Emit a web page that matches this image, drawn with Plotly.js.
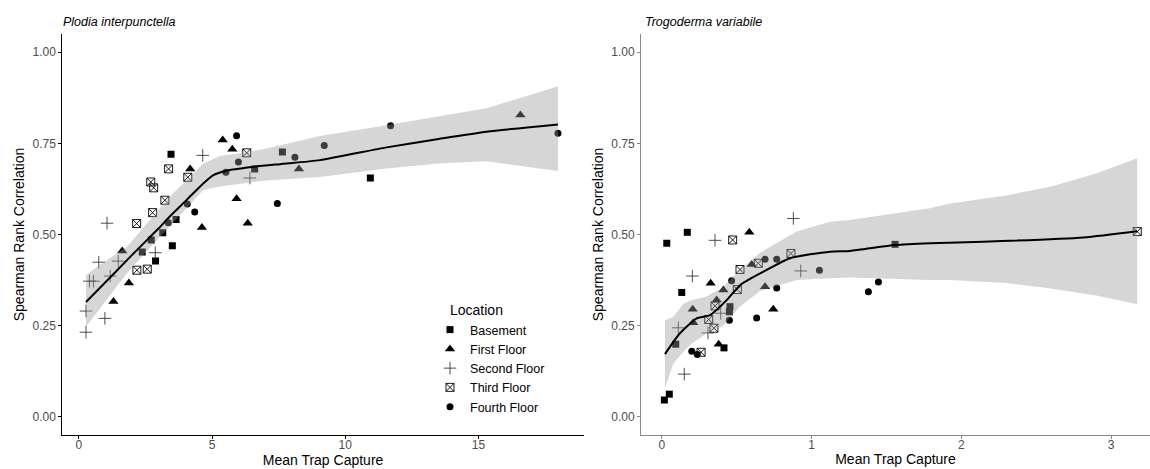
<!DOCTYPE html>
<html>
<head>
<meta charset="utf-8">
<script src="https://cdn.plot.ly/plotly-3.0.1.min.js"></script>
<style>html,body{margin:0;padding:0;background:#fff;}#chart{width:1150px;height:469px;}</style>
</head>
<body>
<div id="chart"></div>
<script>
// ---------- Plodia interpunctella (left panel) ----------
const plodiaBasementX = [3.46, 6.60, 3.65, 3.15, 2.72, 3.51, 2.38, 2.88, 7.64, 10.94];
const plodiaBasementY = [0.720, 0.680, 0.541, 0.505, 0.485, 0.469, 0.452, 0.427, 0.726, 0.655];
const plodiaFirstX = [5.40, 5.76, 4.18, 5.92, 4.62, 6.34, 1.63, 1.88, 1.30, 8.26, 16.57];
const plodiaFirstY = [0.759, 0.734, 0.680, 0.598, 0.519, 0.531, 0.455, 0.367, 0.316, 0.680, 0.828];
const plodiaSecondX = [4.65, 6.42, 1.06, 2.87, 0.75, 1.18, 0.40, 0.55, 1.48, 0.27, 0.98, 0.27];
const plodiaSecondY = [0.717, 0.655, 0.531, 0.450, 0.424, 0.386, 0.372, 0.372, 0.427, 0.290, 0.270, 0.232];
const plodiaThirdX = [6.30, 3.37, 4.09, 2.70, 2.81, 3.23, 2.77, 2.17, 2.18, 2.57];
const plodiaThirdY = [0.724, 0.680, 0.657, 0.644, 0.628, 0.594, 0.560, 0.530, 0.402, 0.405];
const plodiaFourthX = [5.92, 5.99, 5.52, 7.45, 4.07, 4.35, 3.36, 11.70, 17.98, 9.21, 8.11];
const plodiaFourthY = [0.771, 0.699, 0.671, 0.585, 0.584, 0.562, 0.532, 0.798, 0.778, 0.744, 0.712];
const plodiaFitX = [0.27, 1.0, 1.8, 2.3, 3.0, 3.42, 4.05, 4.67, 5.05, 5.55, 6.5, 7.55, 9.05, 11.55, 13.5, 15.3, 17.98];
const plodiaFitY = [0.315, 0.369, 0.429, 0.466, 0.517, 0.550, 0.595, 0.640, 0.663, 0.675, 0.685, 0.693, 0.704, 0.739, 0.762, 0.782, 0.802];
const plodiaBandX = [0.27, 1.0, 1.8, 2.6, 3.42, 4.2, 4.67, 5.3, 5.8, 7.0, 9.05, 11.55, 13.5, 15.3, 17.98];
const plodiaBandHi = [0.389, 0.427, 0.466, 0.535, 0.604, 0.660, 0.695, 0.715, 0.720, 0.735, 0.770, 0.800, 0.824, 0.846, 0.907];
const plodiaBandLo = [0.247, 0.315, 0.393, 0.458, 0.521, 0.585, 0.622, 0.632, 0.636, 0.648, 0.658, 0.681, 0.695, 0.701, 0.674];

// ---------- Trogoderma variabile (right panel) ----------
const trogBasementX = [0.170, 0.033, 0.133, 0.455, 0.451, 0.093, 0.415, 0.050, 0.017, 1.557];
const trogBasementY = [0.506, 0.476, 0.341, 0.302, 0.288, 0.199, 0.189, 0.062, 0.046, 0.473];
const trogFirstX = [0.584, 0.600, 0.326, 0.411, 0.689, 0.366, 0.206, 0.744, 0.210, 0.380];
const trogFirstY = [0.506, 0.418, 0.366, 0.348, 0.357, 0.320, 0.295, 0.295, 0.258, 0.199];
const trogSecondX = [0.878, 0.355, 0.927, 0.204, 0.393, 0.110, 0.308, 0.150];
const trogSecondY = [0.544, 0.484, 0.400, 0.386, 0.284, 0.244, 0.230, 0.117];
const trogThirdX = [0.473, 0.862, 0.644, 0.522, 0.504, 0.355, 0.313, 0.348, 0.262, 3.174];
const trogThirdY = [0.485, 0.448, 0.421, 0.404, 0.349, 0.304, 0.267, 0.243, 0.177, 0.508];
const trogFourthX = [0.689, 0.767, 1.052, 0.466, 0.767, 0.451, 0.633, 0.200, 0.237, 1.379, 1.446];
const trogFourthY = [0.432, 0.432, 0.402, 0.373, 0.353, 0.265, 0.271, 0.180, 0.171, 0.343, 0.370];
const trogFitX = [0.021, 0.121, 0.233, 0.322, 0.433, 0.522, 0.678, 0.856, 1.123, 1.256, 1.557, 1.79, 2.146, 2.814, 3.174];
const trogFitY = [0.172, 0.229, 0.270, 0.279, 0.320, 0.361, 0.398, 0.435, 0.453, 0.455, 0.471, 0.476, 0.480, 0.492, 0.509];
const trogBandX = [0.021, 0.077, 0.143, 0.188, 0.30, 0.41, 0.52, 0.655, 0.9, 1.123, 1.256, 1.79, 1.924, 2.3, 2.6, 2.9, 3.174];
const trogBandHi = [0.265, 0.274, 0.310, 0.318, 0.330, 0.357, 0.402, 0.450, 0.508, 0.535, 0.540, 0.572, 0.585, 0.607, 0.632, 0.667, 0.709];
const trogBandLo = [0.078, 0.146, 0.178, 0.197, 0.229, 0.250, 0.302, 0.345, 0.375, 0.380, 0.382, 0.375, 0.375, 0.367, 0.352, 0.333, 0.309];

const locationNames = ["Basement", "First Floor", "Second Floor", "Third Floor", "Fourth Floor"];
const yTickVals = [0, 0.25, 0.5, 0.75, 1];
const yTickText = ["0.00", "0.25", "0.50", "0.75", "1.00"];
const xTicksLeft = [0, 5, 10, 15];
const xTicksRight = [0, 1, 2, 3];

const markerStyles = [
  {symbol: "square", size: 7, color: "#000", line: {width: 0}},
  {symbol: "triangle-up", size: 9, color: "#000", line: {width: 0}},
  {symbol: "cross-thin-open", size: 9, color: "#222", line: {width: 0.8, color: "#222"}},
  {symbol: "square-x-open", size: 8, color: "#000", line: {width: 0.9, color: "#000"}},
  {symbol: "circle", size: 7, color: "#000", line: {width: 0}}
];

function pointTraces(xs, ys, xa, ya, showLegend) {
  return xs.map((x, i) => ({
    type: "scatter", mode: "markers", x: x, y: ys[i],
    xaxis: xa, yaxis: ya, name: locationNames[i],
    legendgroup: locationNames[i], showlegend: showLegend,
    marker: markerStyles[i], hoverinfo: "x+y"
  }));
}
function bandTrace(bx, hi, lo, xa, ya) {
  return {
    type: "scatter", mode: "lines",
    x: bx.concat(bx.slice().reverse()),
    y: hi.concat(lo.slice().reverse()),
    fill: "toself", fillcolor: "rgba(153,153,153,0.4)",
    line: {width: 0, color: "rgba(0,0,0,0)"},
    xaxis: xa, yaxis: ya, showlegend: false, hoverinfo: "skip"
  };
}
function fitTrace(fx, fy, xa, ya) {
  return {
    type: "scatter", mode: "lines", x: fx, y: fy,
    line: {color: "#000", width: 2, shape: "spline", smoothing: 0.6},
    xaxis: xa, yaxis: ya, showlegend: false, hoverinfo: "skip"
  };
}

const data = []
  .concat(pointTraces([plodiaBasementX, plodiaFirstX, plodiaSecondX, plodiaThirdX, plodiaFourthX],
                      [plodiaBasementY, plodiaFirstY, plodiaSecondY, plodiaThirdY, plodiaFourthY], "x", "y", true))
  .concat([bandTrace(plodiaBandX, plodiaBandHi, plodiaBandLo, "x", "y"), fitTrace(plodiaFitX, plodiaFitY, "x", "y")])
  .concat(pointTraces([trogBasementX, trogFirstX, trogSecondX, trogThirdX, trogFourthX],
                      [trogBasementY, trogFirstY, trogSecondY, trogThirdY, trogFourthY], "x2", "y2", false))
  .concat([bandTrace(trogBandX, trogBandHi, trogBandLo, "x2", "y2"), fitTrace(trogFitX, trogFitY, "x2", "y2")]);

const W = 1150, H = 469;
const FONT = "Liberation Sans, Arial, sans-serif";
const tickFont = {family: FONT, size: 12, color: "#4d4d4d"};
const titleFont = {family: FONT, size: 14, color: "#000"};
function xAxis(domain, range, ticks, lineColor) {
  return {
    domain: domain, range: range, tickvals: ticks, ticktext: ticks.map(String),
    showgrid: false, zeroline: false, showline: true, linecolor: lineColor, linewidth: 1,
    ticks: "outside", ticklen: 3, tickcolor: lineColor, tickfont: tickFont,
    ticklabelstandoff: -4,
    title: {text: "Mean Trap Capture", font: titleFont, standoff: 2}, fixedrange: true
  };
}
function yAxis(domain, anchor, lineColor) {
  return {
    domain: domain, anchor: anchor, range: [-0.05, 1.05], tickvals: yTickVals, ticktext: yTickText,
    showgrid: false, zeroline: false, showline: true, linecolor: lineColor, linewidth: 1,
    ticks: "outside", ticklen: 3, tickcolor: lineColor, tickfont: tickFont,
    title: {text: "Spearman Rank Correlation", font: titleFont, standoff: 4}, fixedrange: true
  };
}
const yDom = [1 - 435 / H, 1 - 34 / H];
const layout = {
  width: W, height: H,
  margin: {l: 0, r: 0, t: 0, b: 0},
  paper_bgcolor: "#fff", plot_bgcolor: "rgba(0,0,0,0)",
  font: {family: FONT},
  xaxis: Object.assign(xAxis([62.3 / W, 583.8 / W], [-0.619, 18.95], xTicksLeft, "#000"), {anchor: "y"}),
  yaxis: yAxis(yDom, "x", "#000"),
  xaxis2: Object.assign(xAxis([641 / W, 1], [-0.139, 3.259], xTicksRight, "#888"), {anchor: "y2"}),
  yaxis2: yAxis(yDom, "x2", "#888"),
  showlegend: true,
  legend: {
    x: 430 / W, y: 1 - 315 / H, xanchor: "left", yanchor: "top",
    bgcolor: "rgba(0,0,0,0)", borderwidth: 0,
    font: {family: FONT, size: 12.5, color: "#000"},
    tracegroupgap: 0, itemclick: false, itemdoubleclick: false
  },
  annotations: [
    {text: "<i>Plodia interpunctella</i>", xref: "paper", yref: "paper", x: 61 / W, y: 1 - 22 / H,
     xanchor: "left", yanchor: "middle", showarrow: false,
     font: {family: FONT, size: 12.5, color: "#000"}},
    {text: "<i>Trogoderma variabile</i>", xref: "paper", yref: "paper", x: 643 / W, y: 1 - 22 / H,
     xanchor: "left", yanchor: "middle", showarrow: false,
     font: {family: FONT, size: 12.5, color: "#000"}},
    {text: "Location", xref: "paper", yref: "paper", x: 448 / W, y: 1 - 310 / H,
     xanchor: "left", yanchor: "middle", showarrow: false,
     font: {family: FONT, size: 14, color: "#000"}}
  ]
};
Plotly.newPlot("chart", data, layout, {staticPlot: true, displayModeBar: false});
</script>
</body>
</html>
